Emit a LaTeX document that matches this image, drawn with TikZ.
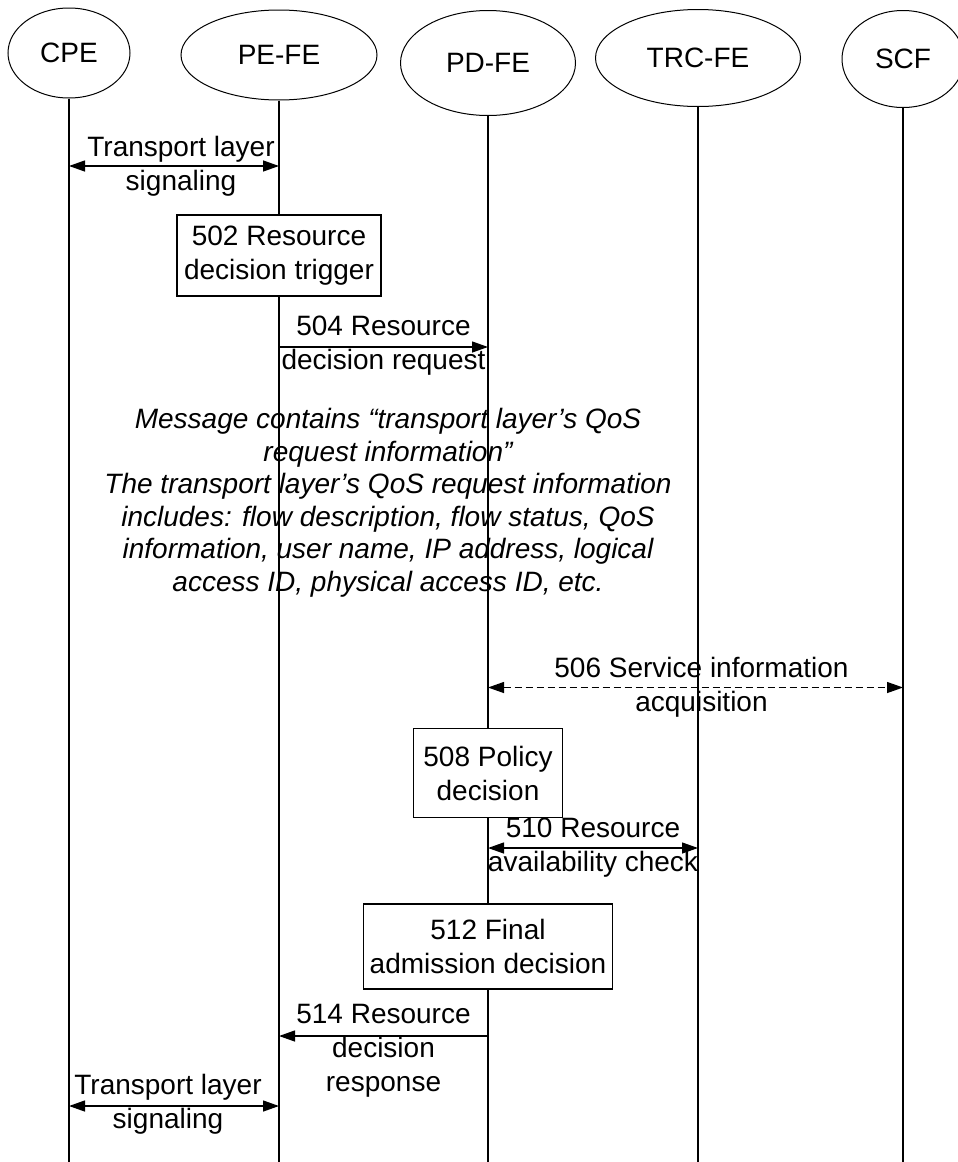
\documentclass[tikz,border=0pt]{standalone}
\usepackage{fontspec}
\setmainfont{Liberation Sans}
\usetikzlibrary{shapes.geometric,arrows.meta}
\begin{document}
\begin{tikzpicture}[x=1pt,y=1pt,
    font=\fontsize{28}{34}\selectfont,
    entity/.style={draw, ellipse, inner sep=0pt, line width=1pt},
    life/.style={line width=1.1pt},
    msg/.style={line width=1.3pt, -{Triangle[length=16pt,width=11pt]}},
    twoway/.style={line width=1.3pt, {Triangle[length=16pt,width=11pt]}-{Triangle[length=16pt,width=11pt]}},
    action/.style={draw, fill=white, align=center, inner sep=0pt, line width=1.1pt}]
    \useasboundingbox (0,0) rectangle (958,-1162);
    % entities and their lifelines
    \node[entity, minimum width=122pt, minimum height=90pt] (cpe) at (69,-53) {CPE};
    \node[entity, minimum width=196pt, minimum height=90pt] (pefe) at (279,-55) {PE-FE};
    \node[entity, minimum width=175pt, minimum height=105pt] (pdfe) at (488,-63) {PD-FE};
    \node[entity, minimum width=205pt, minimum height=97pt] (trcfe) at (698,-58) {TRC-FE};
    \node[entity, minimum width=122pt, minimum height=97pt] (scf) at (903,-59) {SCF};
    \coordinate (bottom) at (0,-1162);
    \foreach \e in {cpe,pefe,pdfe,trcfe,scf}
        \draw[life] (\e.south) -- (\e.south |- bottom);
    % messages and actions
    \draw[twoway] (cpe |- 0,-166) -- (pefe |- 0,-166) node[midway, xshift=7pt, align=center] {Transport layer\\signaling};
    \node[action, minimum width=204pt, minimum height=81pt] (trigger) at (pefe |- 0,-255.5) {502 Resource\\decision trigger};
    \draw[msg] (pefe |- 0,-347) -- (pdfe |- 0,-347) node[midway, yshift=1.5pt, align=center] {504 Resource\\decision request};
    \node[align=center, font=\itshape\fontsize{28}{32.5}\selectfont] (note) at (388,-503) {Message contains “transport layer’s QoS\\request information”\\The transport layer’s QoS request information\\includes: flow description, flow status, QoS\\information, user name, IP address, logical\\access ID, physical access ID, etc.};
    \draw[twoway, dash pattern=on 7pt off 4pt] (pdfe |- 0,-687.5) -- (scf |- 0,-687.5) node[midway, xshift=6pt, align=center] {506 Service information\\acquisition};
    \node[action, minimum width=149pt, minimum height=89pt] (policy) at (pdfe |- 0,-773) {508 Policy\\decision};
    \draw[twoway] (pdfe |- 0,-848) -- (trcfe |- 0,-848) node[midway, align=center] {510 Resource\\availability check};
    \node[action, minimum width=249pt, minimum height=85pt] (final) at (pdfe |- 0,-946.5) {512 Final\\admission decision};
    \draw[msg] (pdfe |- 0,-1036) -- (pefe |- 0,-1036) node[midway, yshift=-15pt, align=center] {514 Resource\\decision\\response};
    \draw[twoway] (cpe |- 0,-1106) -- (pefe |- 0,-1106) node[midway, xshift=-6pt, yshift=1.5pt, align=center] {Transport layer\\signaling};
\end{tikzpicture}
\end{document}
